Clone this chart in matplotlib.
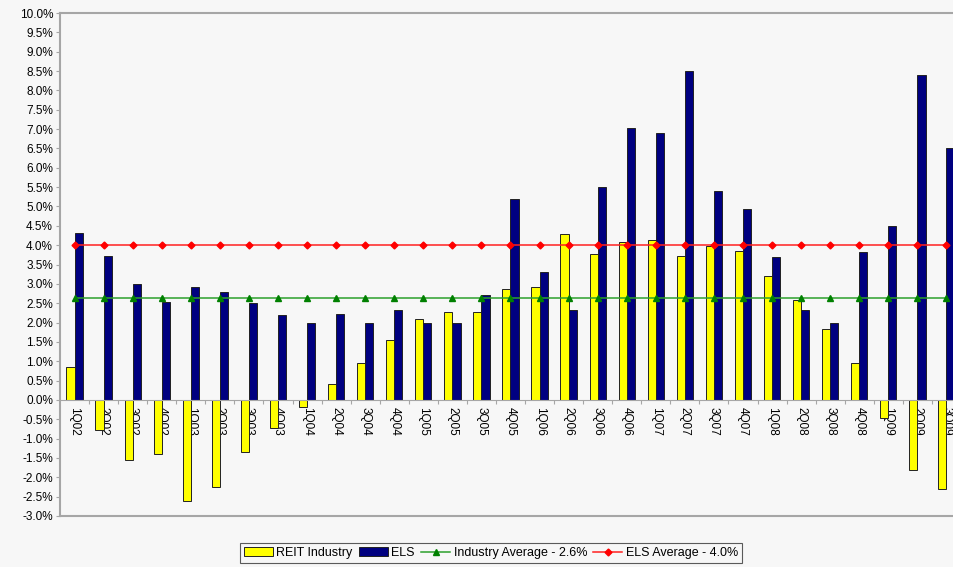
import numpy as np
import matplotlib.pyplot as plt
from matplotlib.ticker import FixedLocator, FuncFormatter

plt.rcParams['font.family'] = ['Liberation Sans', 'DejaVu Sans']

quarters = ['1Q02', '2Q02', '3Q02', '4Q02', '1Q03', '2Q03', '3Q03', '4Q03',
            '1Q04', '2Q04', '3Q04', '4Q04', '1Q05', '2Q05', '3Q05', '4Q05',
            '1Q06', '2Q06', '3Q06', '4Q06', '1Q07', '2Q07', '3Q07', '4Q07',
            '1Q08', '2Q08', '3Q08', '4Q08', '1Q09', '2Q09', '3Q09']
reit = [0.84, -0.78, -1.55, -1.40, -2.60, -2.26, -1.34, -0.73,
        -0.17, 0.41, 0.96, 1.55, 2.08, 2.27, 2.27, 2.87,
        2.91, 4.28, 3.77, 4.09, 4.13, 3.73, 3.99, 3.85,
        3.21, 2.57, 1.83, 0.96, -0.47, -1.81, -2.31]
els = [4.31, 3.72, 3.00, 2.52, 2.91, 2.80, 2.50, 2.20,
       2.00, 2.21, 2.00, 2.33, 2.00, 2.00, 2.71, 5.19,
       3.30, 2.33, 5.51, 7.02, 6.89, 8.51, 5.40, 4.93,
       3.70, 2.33, 2.00, 3.83, 4.50, 8.40, 6.50]
industry_avg = 2.64
els_avg = 4.0

bg = '#f7f7f7'
frame = '#a6a6a6'

fig = plt.figure(figsize=(9.54, 5.67), dpi=100, facecolor=bg)
# plot area runs past the right edge, like the cropped original
ax = fig.add_axes([60/954, 51/567, 901/954, 503/567], facecolor=bg)

x = np.arange(len(quarters))
w = 0.28
b1 = ax.bar(x - w/2, reit, w, color='#ffff00', edgecolor='#222222', linewidth=0.7,
            label='REIT Industry', zorder=2)
b2 = ax.bar(x + w/2, els, w, color='#000080', edgecolor='#222222', linewidth=0.7,
            label='ELS', zorder=2)
l1, = ax.plot(x, [industry_avg]*len(x), color='#2ca02c', lw=1.1, marker='^', ms=4.5,
              mfc='#008000', mec='#008000', label='Industry Average - 2.6%', zorder=3)
l2, = ax.plot(x, [els_avg]*len(x), color='#ff2020', lw=1.1, marker='D', ms=3.5,
              mfc='#ff0000', mec='#ff0000', label='ELS Average - 4.0%', zorder=3)

ax.set_xlim(-0.5, len(quarters) - 0.5)
ax.set_ylim(-3, 10)

ax.yaxis.set_major_locator(FixedLocator(np.arange(-3, 10.01, 0.5)))
ax.yaxis.set_major_formatter(FuncFormatter(lambda v, p: f'{v:.1f}%'))
ax.tick_params(axis='y', labelsize=8.5, length=3, color=frame, pad=2)

ax.spines['bottom'].set_position(('data', 0))
ax.spines['bottom'].set_color(frame)
ax.spines['left'].set_color(frame)
ax.spines['left'].set_linewidth(1.5)
ax.spines['top'].set_color(frame)
ax.spines['top'].set_linewidth(1.5)
ax.spines['right'].set_visible(False)
ax.axhline(-3, color=frame, lw=1.5, clip_on=False)

ax.set_xticks(np.arange(len(quarters)) + 0.5)
ax.set_xticklabels([])
ax.set_xticks(x, minor=True)
ax.set_xticklabels(quarters, minor=True, rotation=270, fontsize=8.5)
ax.tick_params(axis='x', which='major', length=3, color=frame)
ax.tick_params(axis='x', which='minor', length=0, pad=5)

leg = fig.legend([b1, b2, l1, l2],
                 ['REIT Industry', 'ELS', 'Industry Average - 2.6%', 'ELS Average - 4.0%'],
                 loc='center', bbox_to_anchor=(491/954, 14/567), ncol=4,
                 fontsize=9, frameon=True, fancybox=False, edgecolor='#333333',
                 handlelength=2.3, handletextpad=0.3, columnspacing=0.5,
                 borderpad=0.3)
leg.get_frame().set_facecolor(bg)
leg.get_frame().set_linewidth(0.8)

fig.savefig('out.png', dpi=100, facecolor=bg)
